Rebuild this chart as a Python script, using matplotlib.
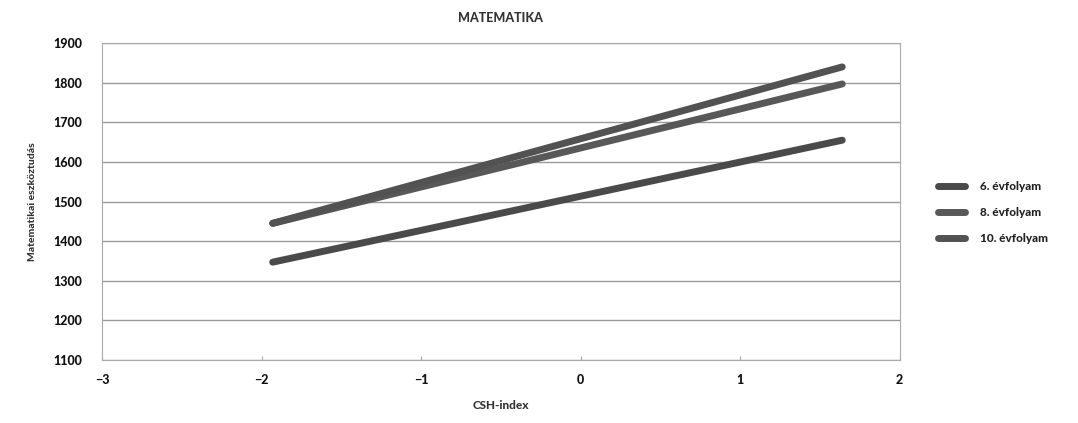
import matplotlib
matplotlib.use("Agg")
import matplotlib.pyplot as plt

x_start = -1.93
x_end = 1.64
series_names = ["6. évfolyam", "8. évfolyam", "10. évfolyam"]
y_start = [1347, 1445, 1445]
y_end = [1655, 1797, 1840]
colors = ["#4a4a4a", "#585858", "#525252"]

xticks = [-3, -2, -1, 0, 1, 2]
yticks = [1100, 1200, 1300, 1400, 1500, 1600, 1700, 1800, 1900]

plt.rcParams['font.family'] = ['Lato', 'DejaVu Sans']
fig = plt.figure(figsize=(10.78, 4.23), dpi=100)
ax = fig.add_axes([0.0946, 0.149, 0.74, 0.749])

for name, ys, ye, c in zip(series_names, y_start, y_end, colors):
    ax.plot([x_start, x_end], [ys, ye], color=c, lw=5, solid_capstyle='round', label=name)

ax.set_xlim(-3, 2)
ax.set_ylim(1100, 1900)
ax.set_xticks(xticks)
ax.set_xticklabels([str(t).replace('-', '−') for t in xticks])
ax.set_yticks(yticks)
ax.yaxis.grid(True, color='#9a9a9a', lw=1)
ax.set_axisbelow(True)
for s in ax.spines.values():
    s.set_color('#aaaaaa')
ax.tick_params(axis='both', colors='#aaaaaa', labelcolor='#111111', length=3, direction='in')
ax.tick_params(axis='y', length=0, pad=14)
ax.tick_params(axis='x', pad=10)
for lab in ax.get_xticklabels() + ax.get_yticklabels():
    lab.set_fontweight('black')
    lab.set_fontsize(9)

ax.set_title('MATEMATIKA', fontsize=9, fontweight='black', color='#333333', pad=15)
ax.set_xlabel('CSH-index', fontsize=8.5, fontweight='black', color='#333333', labelpad=10)
ax.set_ylabel('Matematikai eszköztudás', fontsize=7.5, fontweight='black', color='#333333', labelpad=12)

leg = ax.legend(loc='center left', bbox_to_anchor=(1.035, 0.465), frameon=False,
                handlelength=2.3, labelspacing=1.3, handletextpad=1.2,
                prop={'weight': 'black', 'size': 8.5})
for t in leg.get_texts():
    t.set_color('#222222')

fig.savefig('out.png', dpi=100, facecolor='white')
